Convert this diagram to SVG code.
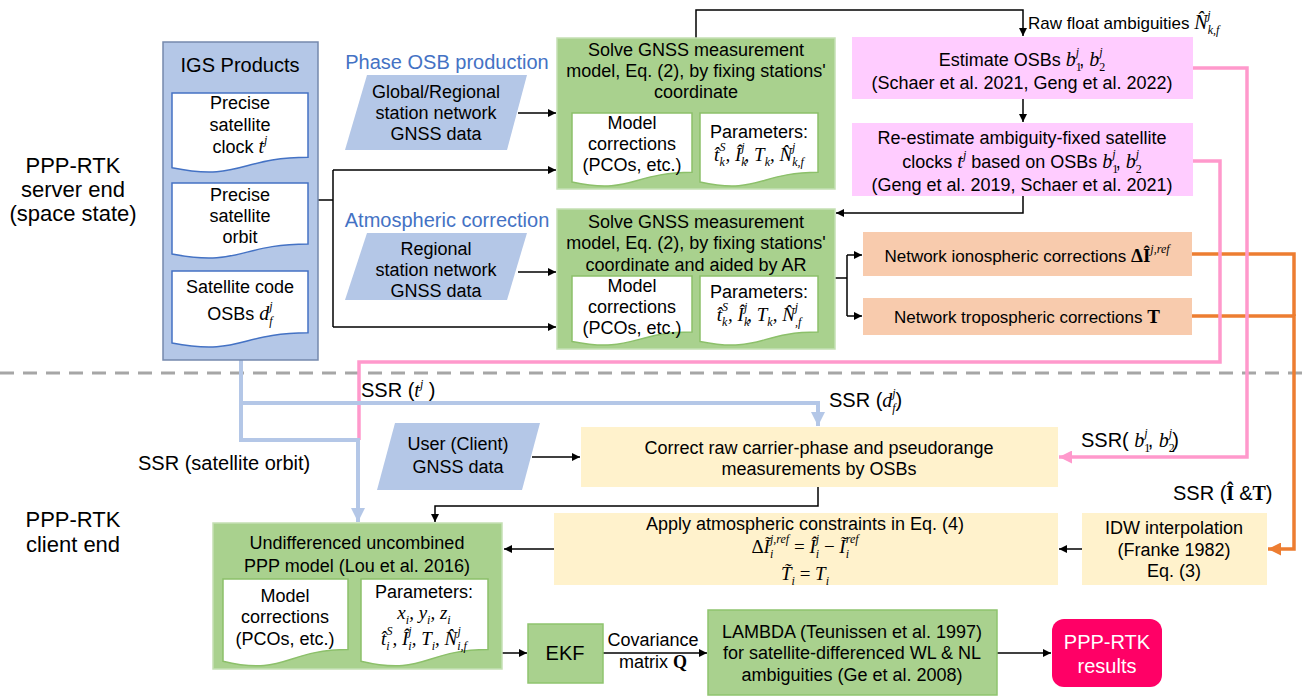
<svg xmlns="http://www.w3.org/2000/svg" width="1311" height="697" viewBox="0 0 1311 697">
<defs>
<style>
text{font-family:"Liberation Sans",Arial,sans-serif;fill:#000}
.c{text-anchor:middle}
.f17{font-size:17px}
.f18{font-size:18px}
.f19{font-size:19px}
.f20{font-size:20px}
.f22{font-size:22px}
.sec{font-size:20px;fill:#4472c4}
.m{font-family:"Liberation Serif","Times New Roman",serif;font-style:italic}
.r{font-family:"Liberation Serif","Times New Roman",serif}
.bs{font-family:"Liberation Serif","Times New Roman",serif;font-weight:bold}
.L{font-size:20px}
.s{font-size:12px}
.blue{fill:#b4c7e7}
.igs{fill:#b4c7e7;stroke:#7589ad;stroke-width:1.5}
.green{fill:#a9d18e;stroke:#c5e0b4;stroke-width:1.5}
.green2{fill:#a9d18e;stroke:#8fc46e;stroke-width:1.5}
.pink{fill:#ffccff}
.orange{fill:#f8cbad}
.yellow{fill:#fff2cc}
.docb{fill:#fff;stroke:#4472c4;stroke-width:1.5}
.docg{fill:#fff;stroke:#8cc06a;stroke-width:1.5}
.k{fill:none;stroke:#000;stroke-width:1.5}
.sb{fill:none;stroke:#b4c7e7;stroke-width:4}
.sp{fill:none;stroke:#ff99cc;stroke-width:3.5}
.so{fill:none;stroke:#ed7d31;stroke-width:3.5}
.w{fill:#fff}
</style>
<marker id="ak" viewBox="0 0 10 10" refX="10" refY="5" markerWidth="9" markerHeight="8" markerUnits="userSpaceOnUse" orient="auto"><path d="M0,0L10,5L0,10z" fill="#000"/></marker>
<marker id="abl" viewBox="0 0 10 10" refX="10" refY="5" markerWidth="14" markerHeight="15" markerUnits="userSpaceOnUse" orient="auto"><path d="M0,0L10,5L0,10z" fill="#b4c7e7"/></marker>
<marker id="apk" viewBox="0 0 10 10" refX="10" refY="5" markerWidth="13" markerHeight="13" markerUnits="userSpaceOnUse" orient="auto"><path d="M0,0L10,5L0,10z" fill="#ff99cc"/></marker>
<marker id="aor" viewBox="0 0 10 10" refX="10" refY="5" markerWidth="13" markerHeight="13" markerUnits="userSpaceOnUse" orient="auto"><path d="M0,0L10,5L0,10z" fill="#ed7d31"/></marker>
</defs>
<rect width="1311" height="697" fill="#fff"/>

<g id="labels">
<text class="f22 c" x="73" y="173">PPP-RTK</text>
<text class="f22 c" x="73" y="197">server end</text>
<text class="f22 c" x="73" y="221">(space state)</text>
<text class="f22 c" x="73" y="527">PPP-RTK</text>
<text class="f22 c" x="73" y="552">client end</text>
<text class="sec c" x="447" y="69">Phase OSB production</text>
<text class="sec c" x="447" y="227">Atmospheric correction</text>
</g>
<line id="divider" x1="0" y1="373" x2="1311" y2="373" stroke="#a6a6a6" stroke-width="3" stroke-dasharray="14 9"/>

<g id="connectors">
<path class="k" d="M318,200H333"/>
<path class="k" d="M333,170V327"/>
<path class="k" d="M333,170H556" marker-end="url(#ak)"/>
<path class="k" d="M333,327H556" marker-end="url(#ak)"/>
<path class="k" d="M518,113H556" marker-end="url(#ak)"/>
<path class="k" d="M518,272H556" marker-end="url(#ak)"/>
<path class="k" d="M696,38V10H1023V36" marker-end="url(#ak)"/>
<path class="k" d="M1023,99V122" marker-end="url(#ak)"/>
<path class="k" d="M1023,196V213H836" marker-end="url(#ak)"/>
<path class="k" d="M835,278H847"/>
<path class="k" d="M847,255V316"/>
<path class="k" d="M847,255H862" marker-end="url(#ak)"/>
<path class="k" d="M847,316H862" marker-end="url(#ak)"/>
<path class="k" d="M532,457H580" marker-end="url(#ak)"/>
<path class="k" d="M818,487V506H435V522" marker-end="url(#ak)"/>
<path class="k" d="M554,549H504" marker-end="url(#ak)"/>
<path class="k" d="M1082,549H1059" marker-end="url(#ak)"/>
<path class="k" d="M502,653H527" marker-end="url(#ak)"/>
<path class="k" d="M603,653H707" marker-end="url(#ak)"/>
<path class="k" d="M997,653H1051" marker-end="url(#ak)"/>
<path class="so" d="M1192,254H1294V316"/>
<path class="so" d="M1192,316H1294V549H1268" marker-end="url(#aor)"/>
<path class="sp" d="M1193,68H1247V457H1059" marker-end="url(#apk)"/>
<path class="sp" d="M1193,161H1220V362H359V440"/>
<path class="sb" d="M241,360V440H358V522" marker-end="url(#abl)"/>
<path class="sb" d="M241,403H818V426" marker-end="url(#abl)"/>
<text class="f17" x="1028" y="29">Raw float ambiguities <tspan class="m L">N̂</tspan><tspan class="m s" dy="5">k,f</tspan><tspan class="m s" dx="-12" dy="-15">j</tspan></text>
<text class="f20" x="361" y="397">SSR (<tspan class="m L">t</tspan><tspan class="m s" dy="-9">j</tspan><tspan dy="9"> )</tspan></text>
<text class="f20" x="829" y="407">SSR (<tspan class="m L">d</tspan><tspan class="m s" dy="5">f</tspan><tspan class="m s" dx="-3.5" dy="-15">j</tspan><tspan dy="10">)</tspan></text>
<text class="f20" x="1081" y="447">SSR( <tspan class="m L">b</tspan><tspan class="r s" dy="5">1</tspan><tspan class="m s" dx="-6" dy="-15">j</tspan><tspan dy="10">, </tspan><tspan class="m L">b</tspan><tspan class="r s" dy="5">2</tspan><tspan class="m s" dx="-6" dy="-15">j</tspan><tspan dy="10">)</tspan></text>
<text class="f20" x="1173" y="500">SSR (<tspan class="bs">Î </tspan>&amp;<tspan class="bs">T</tspan>)</text>
<text class="f20" x="138" y="470">SSR (satellite orbit)</text>
<text class="f18 c" x="653" y="646">Covariance</text>
<text class="f18 c" x="653" y="668">matrix <tspan class="bs">Q</tspan></text>
</g>

<g id="igs-products">
<rect class="igs" x="163" y="42" width="155" height="318"/>
<text class="f20 c" x="240" y="72">IGS Products</text>
<path class="docb" d="M172,93H308V157.2C240,157.2 240,181.6 172,167.7Z"/>
<text class="f18 c" x="240" y="109">Precise</text>
<text class="f18 c" x="240" y="131">satellite</text>
<text class="f18 c" x="240" y="153">clock <tspan class="m L">t</tspan><tspan class="m s" dy="-9">j</tspan></text>
<path class="docb" d="M172,183H308V244C240,244 240,267.1 172,254Z"/>
<text class="f18 c" x="240" y="201">Precise</text>
<text class="f18 c" x="240" y="222">satellite</text>
<text class="f18 c" x="240" y="243">orbit</text>
<path class="docb" d="M172,271H308V332.8C240,332.8 240,356.2 172,342.9Z"/>
<text class="f18 c" x="240" y="293">Satellite code</text>
<text class="f18 c" x="240" y="320">OSBs <tspan class="m L">d</tspan><tspan class="m s" dy="5">f</tspan><tspan class="m s" dx="-3.5" dy="-15">j</tspan></text>
</g>

<g id="global-data">
<path class="blue" d="M367,75H527L507,150H345Z"/>
<text class="f18 c" x="436" y="98">Global/Regional</text>
<text class="f18 c" x="436" y="119">station network</text>
<text class="f18 c" x="436" y="140">GNSS data</text>
</g>

<g id="regional-data">
<path class="blue" d="M367,233H527L507,300H345Z"/>
<text class="f18 c" x="436" y="255">Regional</text>
<text class="f18 c" x="436" y="276">station network</text>
<text class="f18 c" x="436" y="297">GNSS data</text>
</g>

<g id="solve-osb">
<rect class="green" x="557" y="38" width="278" height="151"/>
<text class="f18 c" x="696" y="56">Solve GNSS measurement</text>
<text class="f18 c" x="696" y="77">model, Eq. (2), by fixing stations'</text>
<text class="f18 c" x="696" y="98">coordinate</text>
<path class="docg" d="M572,113H692V172.3C632,172.3 632,194.9 572,182.1Z"/>
<text class="f18 c" x="632" y="129">Model</text>
<text class="f18 c" x="632" y="150">corrections</text>
<text class="f18 c" x="632" y="171">(PCOs, etc.)</text>
<path class="docg" d="M700,113H818V172.3C759,172.3 759,194.9 700,182.1Z"/>
<text class="f18 c" x="759" y="138">Parameters:</text>
<text class="c m f19" x="759" y="161">t̂<tspan class="s" dy="5">k</tspan><tspan class="s" dx="-5.3" dy="-15">S</tspan><tspan dy="10">, Î</tspan><tspan class="s" dy="5">k</tspan><tspan class="s" dx="-5.3" dy="-15">j</tspan><tspan dy="10">, T</tspan><tspan class="s" dy="5">k</tspan><tspan dy="-5">, N̂</tspan><tspan class="s" dy="5">k,f</tspan><tspan class="s" dx="-12" dy="-15">j</tspan></text>
</g>

<g id="solve-atmo">
<rect class="green" x="557" y="209" width="278" height="140"/>
<text class="f18 c" x="696" y="228">Solve GNSS measurement</text>
<text class="f18 c" x="696" y="249">model, Eq. (2), by fixing stations'</text>
<text class="f18 c" x="696" y="271">coordinate and aided by AR</text>
<path class="docg" d="M572,276H692V332.1C632,332.1 632,353.5 572,341.4Z"/>
<text class="f18 c" x="632" y="292">Model</text>
<text class="f18 c" x="632" y="313">corrections</text>
<text class="f18 c" x="632" y="334">(PCOs, etc.)</text>
<path class="docg" d="M700,276H818V332.1C759,332.1 759,353.5 700,341.4Z"/>
<text class="f18 c" x="759" y="298">Parameters:</text>
<text class="c m f19" x="759" y="321">t̂<tspan class="s" dy="5">k</tspan><tspan class="s" dx="-5.3" dy="-15">S</tspan><tspan dy="10">, Î</tspan><tspan class="s" dy="5">k</tspan><tspan class="s" dx="-5.3" dy="-15">j</tspan><tspan dy="10">, T</tspan><tspan class="s" dy="5">k</tspan><tspan dy="-5">, N̂</tspan><tspan class="s" dy="5">,f</tspan><tspan class="s" dx="-6.5" dy="-15">j</tspan></text>
</g>

<g id="estimate-osb">
<rect class="pink" x="852" y="37" width="341" height="62"/>
<text class="f18 c" x="1022" y="66">Estimate OSBs <tspan class="m L">b</tspan><tspan class="r s" dy="5">1</tspan><tspan class="m s" dx="-6" dy="-15">j</tspan><tspan dy="10">, </tspan><tspan class="m L">b</tspan><tspan class="r s" dy="5">2</tspan><tspan class="m s" dx="-6" dy="-15">j</tspan></text>
<text class="f18 c" x="1022" y="89">(Schaer et al. 2021, Geng et al. 2022)</text>
</g>

<g id="reestimate-clock">
<rect class="pink" x="852" y="123" width="341" height="73"/>
<text class="f18 c" x="1022" y="144">Re-estimate ambiguity-fixed satellite</text>
<text class="f18 c" x="1022" y="168">clocks <tspan class="m L">t</tspan><tspan class="m s" dy="-9">j</tspan><tspan dy="9"> based on OSBs </tspan><tspan class="m L">b</tspan><tspan class="r s" dy="5">1</tspan><tspan class="m s" dx="-6" dy="-15">j</tspan><tspan dy="10">, </tspan><tspan class="m L">b</tspan><tspan class="r s" dy="5">2</tspan><tspan class="m s" dx="-6" dy="-15">j</tspan></text>
<text class="f18 c" x="1022" y="191">(Geng et al. 2019, Schaer et al. 2021)</text>
</g>

<g id="iono">
<rect class="orange" x="863" y="232" width="329" height="44"/>
<text class="f17 c" x="1027" y="262">Network ionospheric corrections <tspan class="bs f19">ΔÎ</tspan><tspan class="m s" dy="-9">j,ref</tspan></text>
</g>

<g id="tropo">
<rect class="orange" x="863" y="298" width="329" height="37"/>
<text class="f17 c" x="1027" y="323">Network tropospheric corrections <tspan class="bs f19">T</tspan></text>
</g>

<g id="user-data">
<path class="blue" d="M395,423H540L522,490H377Z"/>
<text class="f18 c" x="458" y="450">User (Client)</text>
<text class="f18 c" x="458" y="473">GNSS data</text>
</g>

<g id="correct-raw">
<rect class="yellow" x="581" y="427" width="477" height="60"/>
<text class="f18 c" x="819" y="454">Correct raw carrier-phase and pseudorange</text>
<text class="f18 c" x="819" y="475">measurements by OSBs</text>
</g>

<g id="apply-atmo">
<rect class="yellow" x="554" y="513" width="504" height="72"/>
<text class="f18 c" x="805" y="530">Apply atmospheric constraints in Eq. (4)</text>
<text class="c f19" x="805" y="553"><tspan class="r">Δ</tspan><tspan class="m">Ĩ</tspan><tspan class="m s" dy="5">i</tspan><tspan class="m s" dx="-3.3" dy="-15">j,ref</tspan><tspan class="r" dy="10"> = </tspan><tspan class="m">Î</tspan><tspan class="m s" dy="5">i</tspan><tspan class="m s" dx="-3.3" dy="-15">j</tspan><tspan class="r" dy="10"> − </tspan><tspan class="m">Ĩ</tspan><tspan class="m s" dy="5">i</tspan><tspan class="m s" dx="-3.3" dy="-15">ref</tspan></text>
<text class="c f19" x="805" y="580"><tspan class="m">T̃</tspan><tspan class="m s" dy="5">i</tspan><tspan class="r" dy="-5"> = </tspan><tspan class="m">T</tspan><tspan class="m s" dy="5">i</tspan></text>
</g>

<g id="idw">
<rect class="yellow" x="1082" y="513" width="185" height="72"/>
<text class="f18 c" x="1174" y="534">IDW interpolation</text>
<text class="f18 c" x="1174" y="556">(Franke 1982)</text>
<text class="f18 c" x="1174" y="577">Eq. (3)</text>
</g>

<g id="ppp-model">
<rect class="green" x="213" y="523" width="289" height="146"/>
<text class="f18 c" x="357" y="549">Undifferenced uncombined</text>
<text class="f18 c" x="357" y="572">PPP model (Lou et al. 2016)</text>
<path class="docg" d="M223,579H348V649.6C285.5,649.6 285.5,676.4 223,661.2Z"/>
<text class="f18 c" x="285" y="602">Model</text>
<text class="f18 c" x="285" y="623">corrections</text>
<text class="f18 c" x="285" y="645">(PCOs, etc.)</text>
<path class="docg" d="M361,579H488V649.6C424.5,649.6 424.5,676.4 361,661.2Z"/>
<text class="f18 c" x="424" y="598">Parameters:</text>
<text class="c m f19" x="424" y="619">x<tspan class="s" dy="5">i</tspan><tspan dy="-5">, y</tspan><tspan class="s" dy="5">i</tspan><tspan dy="-5">, z</tspan><tspan class="s" dy="5">i</tspan></text>
<text class="c m f19" x="424" y="645">t̂<tspan class="s" dy="5">i</tspan><tspan class="s" dx="-3.3" dy="-15">S</tspan><tspan dy="10">, Î</tspan><tspan class="s" dy="5">i</tspan><tspan class="s" dx="-3.3" dy="-15">j</tspan><tspan dy="10">, T</tspan><tspan class="s" dy="5">i</tspan><tspan dy="-5">, N̂</tspan><tspan class="s" dy="5">i,f</tspan><tspan class="s" dx="-9.5" dy="-15">j</tspan></text>
</g>

<g id="ekf">
<rect class="green2" x="528" y="624" width="75" height="59"/>
<text class="f20 c" x="565" y="660">EKF</text>
</g>

<g id="lambda">
<rect class="green2" x="708" y="610" width="289" height="85"/>
<text class="f18 c" x="852" y="638">LAMBDA (Teunissen et al. 1997)</text>
<text class="f18 c" x="852" y="659">for satellite-differenced WL &amp; NL</text>
<text class="f18 c" x="852" y="681">ambiguities (Ge et al. 2008)</text>
</g>

<g id="results">
<rect x="1052" y="619" width="110" height="68" rx="12" fill="#ff0066"/>
<text class="f20 c w" x="1107" y="649">PPP-RTK</text>
<text class="f20 c w" x="1107" y="673">results</text>
</g>
</svg>
